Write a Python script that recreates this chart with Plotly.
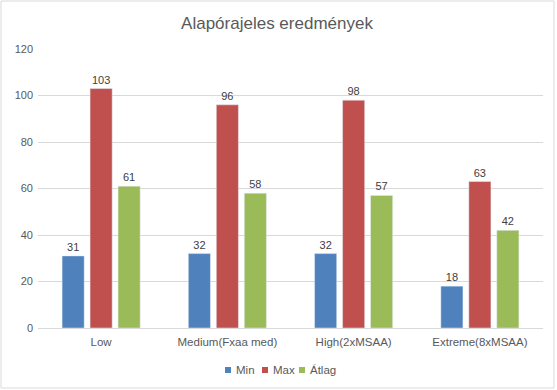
import plotly.graph_objects as go

categories = ["Low", "Medium(Fxaa med)", "High(2xMSAA)", "Extreme(8xMSAA)"]
min_vals = [31, 32, 32, 18]
max_vals = [103, 96, 98, 63]
avg_vals = [61, 58, 57, 42]
series_names = ["Min", "Max", "Átlag"]
colors = ["#4F81BD", "#C0504D", "#9BBB59"]

W, H = 557, 390
ml, mr, mt, mb = 38, 14, 49, 62
pw, ph = W - ml - mr, H - mt - mb
FONT = "Liberation Sans, Arial, sans-serif"
GREY = "#595959"

def px_x(x):
    return (x - ml) / pw

def px_y(y):
    return (H - mb - y) / ph

fig = go.Figure()
for name, vals, col in zip(series_names, [min_vals, max_vals, avg_vals], colors):
    fig.add_trace(go.Bar(
        x=categories, y=vals, name=name, marker_color=col,
        text=[str(v) for v in vals], textposition="outside",
        textfont=dict(size=11, color="#404040"), cliponaxis=False,
        showlegend=False, hoverinfo="skip",
    ))

fig.update_layout(
    width=W, height=H,
    margin=dict(l=ml, r=mr, t=mt, b=mb, autoexpand=False),
    paper_bgcolor="white", plot_bgcolor="white",
    font=dict(family=FONT, color=GREY, size=11),
    title=dict(text="Alapórajeles eredmények", x=px_x(277) * pw / W + ml / W, xanchor="center",
               y=1 - 23 / H, yanchor="middle",
               font=dict(size=17, color=GREY)),
    barmode="group", bargap=0.335, bargroupgap=0.21,
    xaxis=dict(showgrid=False, showline=False, ticks="", automargin=False,
               ticklabelstandoff=5,
               tickfont=dict(size=11.5, color=GREY)),
    yaxis=dict(range=[0, 120], dtick=20, showgrid=True, gridcolor="#D9D9D9", gridwidth=1,
               zeroline=True, zerolinecolor="#D9D9D9", zerolinewidth=1, automargin=False,
               showline=False, ticks="", ticklabelstandoff=4,
               tickfont=dict(size=11, color=GREY)),
)

# compact legend (Excel style)
legend_x = [225, 262, 299]
legend_y = 370
for name, col, lx in zip(series_names, colors, legend_x):
    fig.add_shape(type="rect", xref="paper", yref="paper",
                  x0=px_x(lx), x1=px_x(lx + 6), y0=px_y(legend_y + 3), y1=px_y(legend_y - 3),
                  fillcolor=col, line=dict(width=0))
    fig.add_annotation(text=name, xref="paper", yref="paper", x=px_x(lx + 9), y=px_y(legend_y),
                       xanchor="left", yanchor="middle", showarrow=False,
                       font=dict(size=11.5, color=GREY, family=FONT))

fig.add_shape(type="rect", xref="paper", yref="paper",
              x0=px_x(1), x1=px_x(554),
              y0=px_y(388), y1=px_y(1),
              line=dict(color="#D9D9D9", width=1), fillcolor="rgba(0,0,0,0)", layer="below")

fig.write_html("out.html", config={"displayModeBar": False},
               post_script="document.body.style.margin='0';")
